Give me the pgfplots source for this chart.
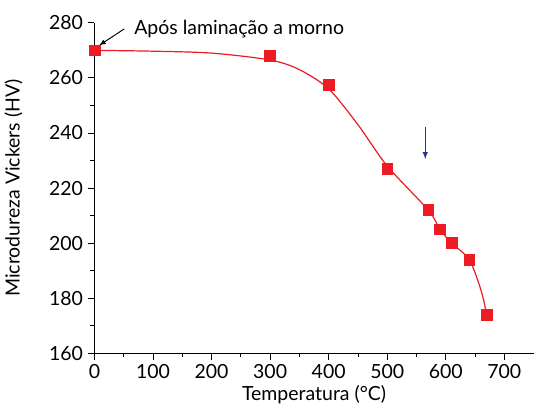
\documentclass[border=0pt]{standalone}
\usepackage{fontspec}
\setmainfont{Lato}
\usepackage{pgfplots}
\pgfplotsset{compat=1.18}
\definecolor{ptred}{RGB}{237,28,36}
\definecolor{arrblue}{RGB}{40,50,150}

\begin{document}
\begin{tikzpicture}
\begin{axis}[
  name=ax,
  scale only axis,
  width=327pt, height=246pt,
  xmin=0, xmax=750, ymin=160, ymax=280,
  axis x line*=bottom, axis y line*=left,
  xtick={0,100,...,700}, ytick={160,180,...,280},
  minor x tick num=1, minor y tick num=1,
  tick align=outside,
  major tick length=5pt, minor tick length=3pt,
  tick style={black, line width=0.6pt},
  axis line style={line width=0.6pt},
  xlabel={Temperatura (°C)},
  ylabel={Microdureza Vickers (HV)},
  ylabel style={yshift=13pt},
  xlabel style={yshift=2pt},
  font=\fontsize{14.5}{17}\selectfont,
  /pgf/number format/assume math mode=true,
  clip=false,
]
% curva ajustada
\addplot[ptred, line width=0.9pt, smooth, tension=0.5] coordinates {
  (0,270) (100,269.7) (200,269) (300,266.5) (350,263) (400,256)
  (450,243) (500,228) (570,212) (590,205) (610,200) (640,194)
  (660,183) (670,174)
};
% medidas
\addplot[only marks, mark=square*, mark size=4pt, ptred] coordinates {
  (0,270) (300,268) (400,257.5) (500,227) (570,212)
  (590,205) (610,200) (640,194) (670,174)
};
\draw[-latex, line width=0.7pt] (axis cs:51,277.8) -- (axis cs:8,271.8);
\node[anchor=west] at (axis cs:60,277.8) {Após laminação a morno};
\draw[-latex, arrblue, line width=0.8pt] (axis cs:565,242) -- (axis cs:565,230.5);
\end{axis}
\path ([yshift=17pt]ax.north west);
\end{tikzpicture}
\end{document}
